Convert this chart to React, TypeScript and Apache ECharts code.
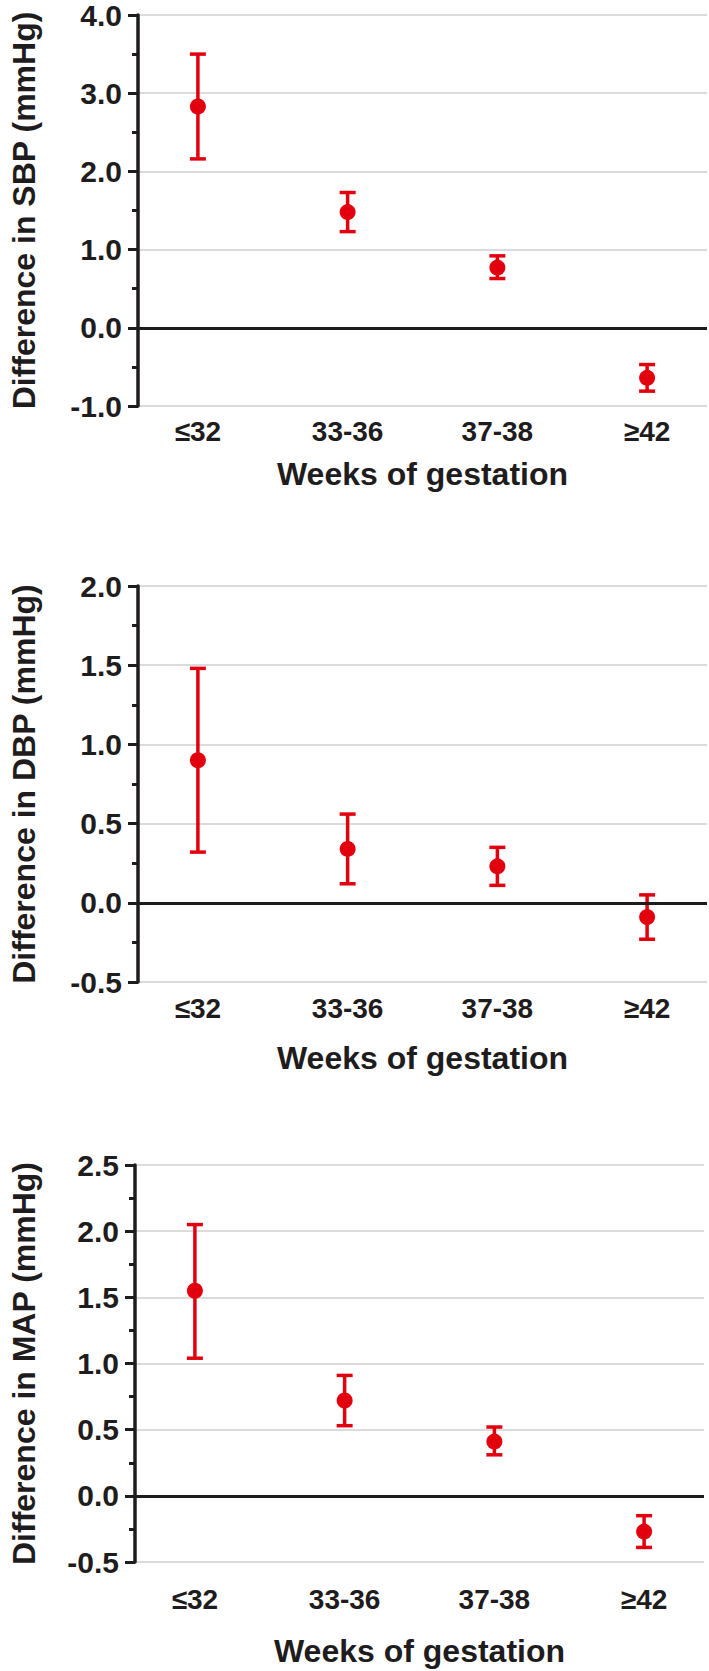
import React, { useEffect, useRef } from "react";
import * as echarts from "echarts";

const categories = ["≤32", "33-36", "37-38", "≥42"];

const sbpMean = [2.83, 1.48, 0.77, -0.64];
const sbpLow = [2.16, 1.23, 0.63, -0.81];
const sbpHigh = [3.5, 1.73, 0.92, -0.47];

const dbpMean = [0.9, 0.34, 0.23, -0.09];
const dbpLow = [0.32, 0.12, 0.11, -0.23];
const dbpHigh = [1.48, 0.56, 0.35, 0.05];

const mapMean = [1.55, 0.72, 0.41, -0.27];
const mapLow = [1.04, 0.53, 0.31, -0.39];
const mapHigh = [2.05, 0.91, 0.52, -0.15];

const yTitles = [
  "Difference in SBP (mmHg)",
  "Difference in DBP (mmHg)",
  "Difference in MAP (mmHg)",
];
const xTitle = "Weeks of gestation";

const yMin = [-1, -0.5, -0.5];
const yMax = [4, 2, 2.5];
const yStep = [1, 0.5, 0.5];

const panels = [
  { mean: sbpMean, low: sbpLow, high: sbpHigh },
  { mean: dbpMean, low: dbpLow, high: dbpHigh },
  { mean: mapMean, low: mapLow, high: mapHigh },
];

// layout (pixels)
const layout = [
  { left: 115, top: 11, width: 592, height: 395, labelMargin: 11, nameGap: 52, yNameGap: 98 },
  { left: 112, top: 586, width: 595, height: 396, labelMargin: 12, nameGap: 60, yNameGap: 98 },
  { left: 108, top: 1165, width: 596, height: 397, labelMargin: 23, nameGap: 73, yNameGap: 95 },
];

const RED = "#e2000f";
const INK = "#1f1c1d";
const FONT = "'Liberation Sans', Arial, Helvetica, sans-serif";

export default function App() {
  const ref = useRef<HTMLDivElement>(null);

  useEffect(() => {
    if (!ref.current) return;
    const chart = echarts.init(ref.current, undefined, { renderer: "svg" });

    const grids: any[] = [];
    const xAxes: any[] = [];
    const yAxes: any[] = [];
    const series: any[] = [];

    panels.forEach((p, i) => {
      const L = layout[i];
      grids.push({ left: L.left, top: L.top, width: L.width, height: L.height, containLabel: false });
      xAxes.push({
        type: "value",
        gridIndex: i,
        min: 0.6,
        max: 4.4,
        axisLine: { show: false },
        axisTick: { show: false },
        splitLine: { show: false },
        axisLabel: {
          customValues: [1, 2, 3, 4],
          formatter: (v: number) => categories[Math.round(v) - 1] ?? "",
          color: INK,
          fontFamily: FONT,
          fontWeight: "bold",
          fontSize: 28,
          margin: L.labelMargin,
        },
        name: xTitle,
        nameLocation: "middle",
        nameGap: L.nameGap,
        nameTextStyle: { color: INK, fontFamily: FONT, fontWeight: "bold", fontSize: 32 },
      });
      yAxes.push({
        type: "value",
        gridIndex: i,
        min: yMin[i],
        max: yMax[i],
        interval: yStep[i],
        axisLine: { show: true, lineStyle: { color: INK, width: 3.5 } },
        axisTick: { show: true, length: 10, lineStyle: { color: INK, width: 3 } },
        minorTick: { show: true, splitNumber: 2, length: 6, lineStyle: { color: INK, width: 3 } },
        splitLine: { show: true, lineStyle: { color: "#cfcfcf", width: 1.5 } },
        axisLabel: {
          formatter: (v: number) => v.toFixed(1),
          color: INK,
          fontFamily: FONT,
          fontWeight: "bold",
          fontSize: 30,
          margin: 16,
        },
        name: yTitles[i],
        nameLocation: "middle",
        nameGap: L.yNameGap,
        nameTextStyle: { color: INK, fontFamily: FONT, fontWeight: "bold", fontSize: 32 },
      });

      series.push({
        type: "custom",
        xAxisIndex: i,
        yAxisIndex: i,
        z: 3,
        encode: { x: 0, y: [1, 2] },
        data: categories.map((_, k) => [k + 1, p.low[k], p.high[k]]),
        renderItem: (params: any, api: any) => {
          const x = api.value(0);
          const lo = api.coord([x, api.value(1)]);
          const hi = api.coord([x, api.value(2)]);
          const half = 8;
          const style = { stroke: RED, lineWidth: 3.5 };
          return {
            type: "group",
            children: [
              { type: "line", shape: { x1: lo[0], y1: lo[1], x2: hi[0], y2: hi[1] }, style },
              { type: "line", shape: { x1: hi[0] - half, y1: hi[1], x2: hi[0] + half, y2: hi[1] }, style },
              { type: "line", shape: { x1: lo[0] - half, y1: lo[1], x2: lo[0] + half, y2: lo[1] }, style },
            ],
          };
        },
      });

      series.push({
        type: "scatter",
        xAxisIndex: i,
        yAxisIndex: i,
        z: 4,
        symbol: "circle",
        symbolSize: 16,
        itemStyle: { color: RED, opacity: 1 },
        data: categories.map((_, k) => [k + 1, p.mean[k]]),
        markLine: {
          silent: true,
          symbol: ["none", "none"],
          label: { show: false },
          lineStyle: { color: INK, width: 3, type: "solid" },
          data: [{ yAxis: 0 }],
        },
      });
    });

    chart.setOption({
      animation: false,
      backgroundColor: "#ffffff",
      grid: grids,
      xAxis: xAxes,
      yAxis: yAxes,
      series,
    });

    return () => chart.dispose();
  }, []);

  return (
    <div
      ref={ref}
      style={{ position: "absolute", left: 0, top: 0, width: 709, height: 1671, background: "#fff" }}
    />
  );
}
